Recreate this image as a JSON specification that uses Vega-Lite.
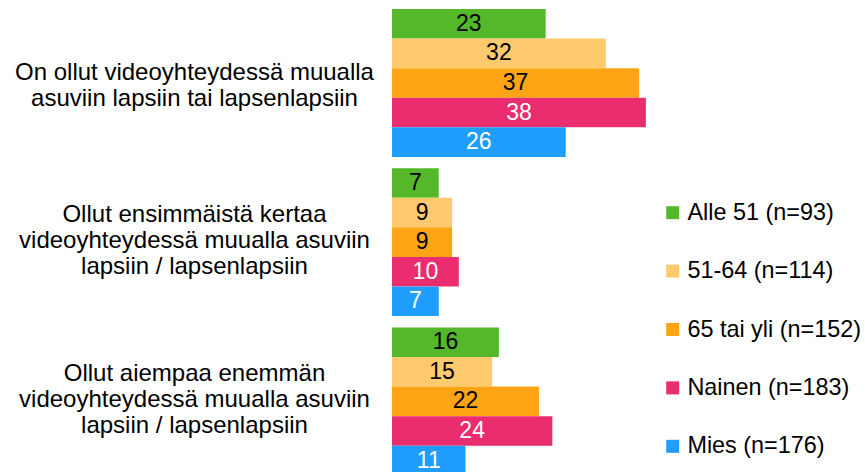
{
  "$schema": "https://vega.github.io/schema/vega-lite/v6.json",
  "autosize": "none",
  "width": 473,
  "height": 472,
  "padding": {"left": 392, "top": 0, "right": 0, "bottom": 0},
  "background": "white",
  "config": {"view": {"stroke": null}, "font": "Liberation Sans"},
  "data": {
    "values": [
      {"question": "On ollut videoyhteydessä muualla asuviin lapsiin tai lapsenlapsiin", "series": "Alle 51 (n=93)", "value": 23},
      {"question": "On ollut videoyhteydessä muualla asuviin lapsiin tai lapsenlapsiin", "series": "51-64 (n=114)", "value": 32},
      {"question": "On ollut videoyhteydessä muualla asuviin lapsiin tai lapsenlapsiin", "series": "65 tai yli (n=152)", "value": 37},
      {"question": "On ollut videoyhteydessä muualla asuviin lapsiin tai lapsenlapsiin", "series": "Nainen (n=183)", "value": 38},
      {"question": "On ollut videoyhteydessä muualla asuviin lapsiin tai lapsenlapsiin", "series": "Mies (n=176)", "value": 26},
      {"question": "Ollut ensimmäistä kertaa videoyhteydessä muualla asuviin lapsiin / lapsenlapsiin", "series": "Alle 51 (n=93)", "value": 7},
      {"question": "Ollut ensimmäistä kertaa videoyhteydessä muualla asuviin lapsiin / lapsenlapsiin", "series": "51-64 (n=114)", "value": 9},
      {"question": "Ollut ensimmäistä kertaa videoyhteydessä muualla asuviin lapsiin / lapsenlapsiin", "series": "65 tai yli (n=152)", "value": 9},
      {"question": "Ollut ensimmäistä kertaa videoyhteydessä muualla asuviin lapsiin / lapsenlapsiin", "series": "Nainen (n=183)", "value": 10},
      {"question": "Ollut ensimmäistä kertaa videoyhteydessä muualla asuviin lapsiin / lapsenlapsiin", "series": "Mies (n=176)", "value": 7},
      {"question": "Ollut aiempaa enemmän videoyhteydessä muualla asuviin lapsiin / lapsenlapsiin", "series": "Alle 51 (n=93)", "value": 16},
      {"question": "Ollut aiempaa enemmän videoyhteydessä muualla asuviin lapsiin / lapsenlapsiin", "series": "51-64 (n=114)", "value": 15},
      {"question": "Ollut aiempaa enemmän videoyhteydessä muualla asuviin lapsiin / lapsenlapsiin", "series": "65 tai yli (n=152)", "value": 22},
      {"question": "Ollut aiempaa enemmän videoyhteydessä muualla asuviin lapsiin / lapsenlapsiin", "series": "Nainen (n=183)", "value": 24},
      {"question": "Ollut aiempaa enemmän videoyhteydessä muualla asuviin lapsiin / lapsenlapsiin", "series": "Mies (n=176)", "value": 11}
    ]
  },
  "encoding": {
    "y": {
      "field": "question",
      "type": "nominal",
      "sort": null,
      "scale": {"range": [9, 475.3], "paddingInner": 0.071, "paddingOuter": 0},
      "axis": {
        "title": null,
        "domain": false,
        "ticks": false,
        "labelAlign": "center",
        "labelBaseline": "middle",
        "labelFontSize": 24,
        "labelLineHeight": 26,
        "labelColor": "black",
        "labelLimit": 0,
        "labelOverlap": false,
        "labelBound": false,
        "labelPadding": 198,
        "labelOffset": {"condition": {"test": "indexof(datum.value, 'On ollut') == 0", "value": -10}, "value": -27},
        "labelExpr": "indexof(datum.value, 'On ollut') == 0 ? ['On ollut videoyhteydessä muualla', 'asuviin lapsiin tai lapsenlapsiin'] : indexof(datum.value, 'Ollut ensimm') == 0 ? ['Ollut ensimmäistä kertaa', 'videoyhteydessä muualla asuviin', 'lapsiin / lapsenlapsiin'] : ['Ollut aiempaa enemmän', 'videoyhteydessä muualla asuviin', 'lapsiin / lapsenlapsiin']"
      }
    },
    "yOffset": {
      "field": "series",
      "type": "nominal",
      "scale": {"domain": ["Alle 51 (n=93)", "51-64 (n=114)", "65 tai yli (n=152)", "Nainen (n=183)", "Mies (n=176)"], "paddingInner": 0, "paddingOuter": 0}
    }
  },
  "layer": [
    {
      "mark": {"type": "bar", "clip": true},
      "encoding": {
        "x": {"field": "value", "type": "quantitative", "scale": {"domain": [0, 70.8], "nice": false, "zero": true}, "axis": null},
        "color": {
          "field": "series",
          "type": "nominal",
          "scale": {
            "domain": ["Alle 51 (n=93)", "51-64 (n=114)", "65 tai yli (n=152)", "Nainen (n=183)", "Mies (n=176)"],
            "range": ["#54b82a", "#ffc96e", "#ffa515", "#e92d6e", "#1f9eff"]
          },
          "legend": {
            "title": null,
            "orient": "none",
            "legendX": 269,
            "legendY": 201,
            "direction": "vertical",
            "padding": 0,
            "symbolType": "square",
            "symbolSize": 169,
            "symbolStrokeWidth": 0,
            "labelFontSize": 23.4,
            "labelFont": "Liberation Sans",
            "labelColor": "black",
            "labelOffset": 3,
            "labelLimit": 0,
            "rowPadding": 33.4
          }
        }
      }
    },
    {
      "transform": [{"calculate": "datum.value / 2", "as": "mid"}],
      "mark": {"type": "text", "fontSize": 23, "font": "Liberation Sans", "align": "center", "baseline": "middle", "clip": true},
      "encoding": {
        "x": {"field": "mid", "type": "quantitative"},
        "text": {"field": "value", "type": "quantitative"},
        "color": {
          "condition": {"test": "datum.series == 'Nainen (n=183)' || datum.series == 'Mies (n=176)'", "value": "white"},
          "value": "black"
        }
      }
    }
  ]
}
